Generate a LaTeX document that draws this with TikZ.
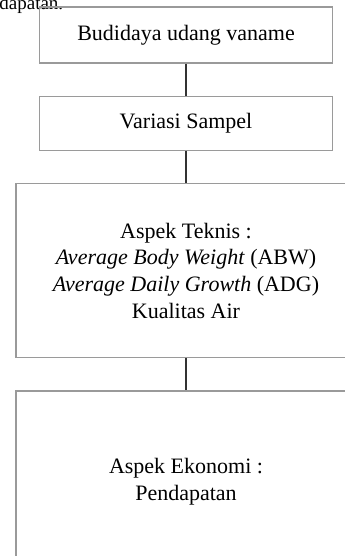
\documentclass[tikz,border=0pt]{standalone}
\usepackage{fontspec}
\setmainfont{Liberation Serif}
\usepackage{tikz}
\usetikzlibrary{positioning}
\definecolor{boxgray}{HTML}{9A9A9A}
\definecolor{linkgray}{HTML}{333333}

\begin{document}
\begin{tikzpicture}[
  x=0.5pt, y=-0.5pt,
  node distance=16pt,
  box/.style={rectangle, draw=boxgray, line width=0.65pt, minimum width=146.5pt, font=\fontsize{11}{13.3}\selectfont, align=center},
  widebox/.style={box, minimum width=170pt},
  link/.style={draw=linkgray, line width=1.25pt}
]
  \useasboundingbox (0,0) rectangle (344,556);

  \node[anchor=base west, inner sep=0pt, font=\fontsize{9.5}{11}\selectfont] (potongan) at (-1,10) {dapatan.};

  \node[box, minimum height=28pt] (budidaya) at (186,35) {Budidaya udang vaname};
  \node[box, minimum height=27pt, below=of budidaya] (sampel) {Variasi Sampel};
  \node[widebox, minimum height=87pt, below=of sampel] (teknis) {Aspek Teknis :\\
    \textit{Average Body Weight} (ABW)\\
    \textit{Average Daily Growth} (ADG)\\
    Kualitas Air};
  \node[widebox, minimum height=91pt, below=of teknis] (ekonomi) {Aspek Ekonomi :\\ Pendapatan};

  \draw[link] (budidaya) -- (sampel);
  \draw[link] (sampel) -- (teknis);
  \draw[link] (teknis) -- (ekonomi);
\end{tikzpicture}
\end{document}
